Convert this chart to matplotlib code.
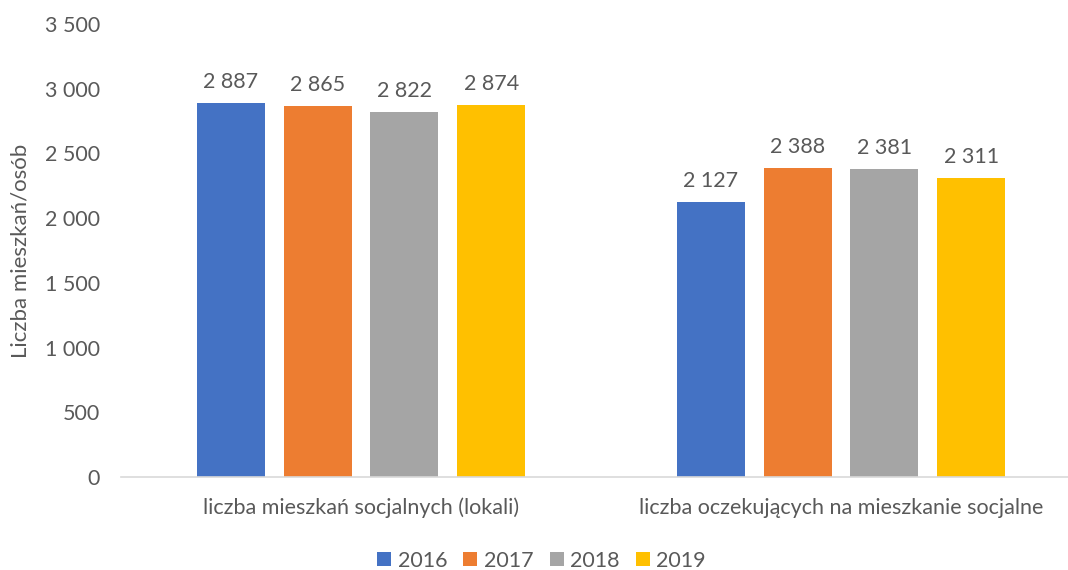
import matplotlib.pyplot as plt
import numpy as np

plt.rcParams['font.family'] = ['Lato', 'DejaVu Sans']

# Data
categories = ["liczba mieszkań socjalnych (lokali)", "liczba oczekujących na mieszkanie socjalne"]
years = ["2016", "2017", "2018", "2019"]
values = {
    "2016": [2887, 2127],
    "2017": [2865, 2388],
    "2018": [2822, 2381],
    "2019": [2874, 2311],
}
colors = ["#4472C4", "#ED7D31", "#A5A5A5", "#FFC000"]
text_color = "#595959"
fs = 15.5

fig = plt.figure(figsize=(10.68, 5.70), dpi=100)
ax = fig.add_axes([121 / 1068, 93 / 570, 960 / 1068, 453 / 570])

x = np.arange(len(categories))
step = 0.181
width = 0.1417

for i, (year, color) in enumerate(zip(years, colors)):
    bars = ax.bar(x + (i - 1.5) * step, values[year], width, color=color, label=year)
    ax.bar_label(bars, labels=[f"{v:,}".replace(",", " ") for v in values[year]],
                 padding=8, fontsize=fs, color=text_color)

ax.set_xlim(-0.5, 1.5)
ax.set_ylim(0, 3500)
ax.set_yticks(range(0, 3501, 500))
ax.set_yticklabels([f"{v:,}".replace(",", " ") for v in range(0, 3501, 500)])
ax.set_xticks(x)
ax.set_xticklabels(categories)
ax.tick_params(axis='both', length=0, labelsize=fs, colors=text_color)
ax.tick_params(axis='x', pad=15)
ax.tick_params(axis='y', pad=15)

for side in ["top", "right", "left"]:
    ax.spines[side].set_visible(False)
ax.spines["bottom"].set_color("#D9D9D9")
ax.spines["bottom"].set_linewidth(1.2)

ax.set_ylabel("Liczba mieszkań/osób", fontsize=fs + 0.5, color=text_color)
ax.yaxis.set_label_coords(-0.094, 0.5)

fig.legend(loc="lower center", bbox_to_anchor=(0.507, -0.035), ncol=4, frameon=False,
           fontsize=fs, labelcolor=text_color, handlelength=0.65, handleheight=0.65,
           handletextpad=0.3, columnspacing=0.75)

fig.savefig("out.png", dpi=100)
